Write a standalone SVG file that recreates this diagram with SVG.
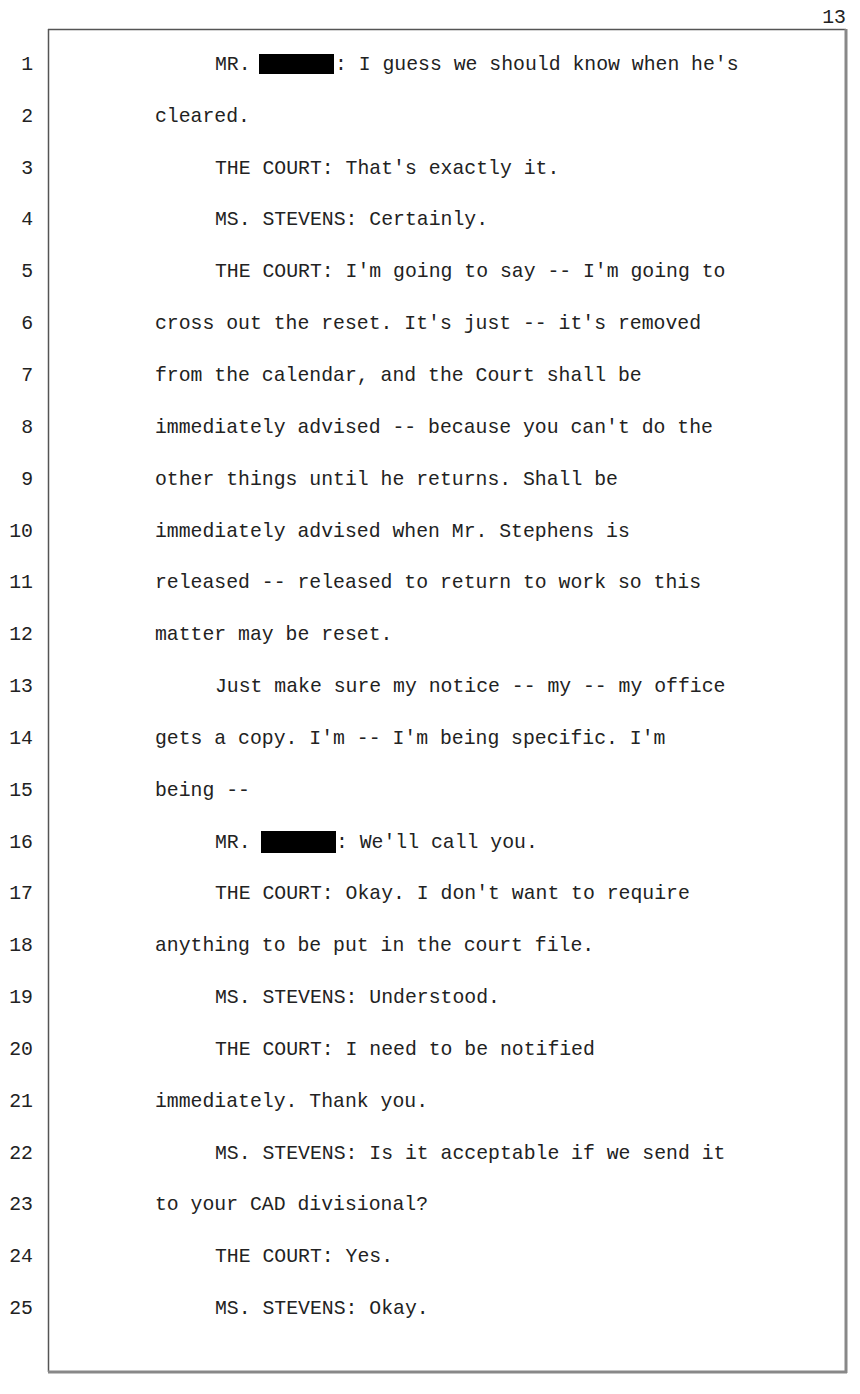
<svg xmlns="http://www.w3.org/2000/svg" width="860" height="1394" viewBox="0 0 860 1394">
<style>
text{font-family:"Liberation Mono","Courier New",monospace;font-size:19.8px;fill:#222}
.n{text-anchor:end}
</style>
<rect width="860" height="1394" fill="#fff"/>
<text x="846" y="23" class="n">13</text>
<line x1="48" y1="29.5" x2="846" y2="29.5" stroke="#555" stroke-width="1.5"/>
<line x1="48.5" y1="29" x2="48.5" y2="1372" stroke="#555" stroke-width="1.5"/>
<line x1="846" y1="29" x2="846" y2="1373" stroke="#888" stroke-width="3"/>
<line x1="48" y1="1372" x2="847" y2="1372" stroke="#888" stroke-width="3"/>
<g>
<text x="33" y="70" class="n">1</text>
<text x="33" y="122" class="n">2</text>
<text x="33" y="174" class="n">3</text>
<text x="33" y="225" class="n">4</text>
<text x="33" y="277" class="n">5</text>
<text x="33" y="329" class="n">6</text>
<text x="33" y="381" class="n">7</text>
<text x="33" y="433" class="n">8</text>
<text x="33" y="485" class="n">9</text>
<text x="33" y="537" class="n">10</text>
<text x="33" y="588" class="n">11</text>
<text x="33" y="640" class="n">12</text>
<text x="33" y="692" class="n">13</text>
<text x="33" y="744" class="n">14</text>
<text x="33" y="796" class="n">15</text>
<text x="33" y="848" class="n">16</text>
<text x="33" y="899" class="n">17</text>
<text x="33" y="951" class="n">18</text>
<text x="33" y="1003" class="n">19</text>
<text x="33" y="1055" class="n">20</text>
<text x="33" y="1107" class="n">21</text>
<text x="33" y="1159" class="n">22</text>
<text x="33" y="1210" class="n">23</text>
<text x="33" y="1262" class="n">24</text>
<text x="33" y="1314" class="n">25</text>
</g>
<g>
<text x="215" y="70">MR.</text>
<rect x="259" y="54" width="75" height="20" fill="#000"/>
<text x="335" y="70">:  I guess we should know when he's</text>
<text x="155" y="122">cleared.</text>
<text x="215" y="174">THE COURT:  That's exactly it.</text>
<text x="215" y="225">MS. STEVENS:  Certainly.</text>
<text x="215" y="277">THE COURT:  I'm going to say -- I'm going to</text>
<text x="155" y="329">cross out the reset.  It's just -- it's removed</text>
<text x="155" y="381">from the calendar, and the Court shall be</text>
<text x="155" y="433">immediately advised -- because you can't do the</text>
<text x="155" y="485">other things until he returns.  Shall be</text>
<text x="155" y="537">immediately advised when Mr. Stephens is</text>
<text x="155" y="588">released -- released to return to work so this</text>
<text x="155" y="640">matter may be reset.</text>
<text x="215" y="692">Just make sure my notice -- my -- my office</text>
<text x="155" y="744">gets a copy.  I'm -- I'm being specific.  I'm</text>
<text x="155" y="796">being --</text>
<text x="215" y="848">MR.</text>
<rect x="261" y="831" width="75" height="22" fill="#000"/>
<text x="336" y="848">:  We'll call you.</text>
<text x="215" y="899">THE COURT:  Okay.  I don't want to require</text>
<text x="155" y="951">anything to be put in the court file.</text>
<text x="215" y="1003">MS. STEVENS:  Understood.</text>
<text x="215" y="1055">THE COURT:  I need to be notified</text>
<text x="155" y="1107">immediately.  Thank you.</text>
<text x="215" y="1159">MS. STEVENS:  Is it acceptable if we send it</text>
<text x="155" y="1210">to your CAD divisional?</text>
<text x="215" y="1262">THE COURT:  Yes.</text>
<text x="215" y="1314">MS. STEVENS:  Okay.</text>
</g>
</svg>
